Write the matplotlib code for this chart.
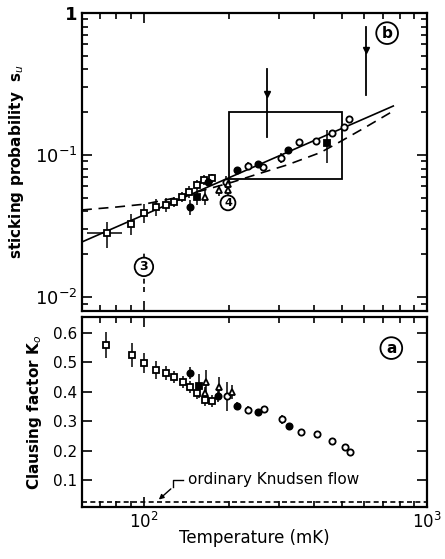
import numpy as np
import matplotlib
matplotlib.use("Agg")
import matplotlib.pyplot as plt
from matplotlib.patches import Rectangle
from matplotlib.ticker import LogLocator, NullFormatter

# ---- (b) sticking probability ----
sq_T = [90, 100, 110, 120, 128, 136, 144, 154, 163, 174]
sq_s = [0.0327, 0.0391, 0.043, 0.0445, 0.0467, 0.0507, 0.055, 0.0615, 0.0667, 0.0689]
sq_err = [0.0055, 0.006, 0.006, 0.005, 0.004, 0.004, 0.005, 0.005, 0.005, 0.005]

big_T, big_s = [74], [0.0282]
big_xerr = [[11], [10]]
big_yerr = [[0.0061], [0.0055]]

oc_T = [195, 233, 263, 305, 353, 405, 461, 509, 530]
oc_s = [0.0646, 0.0837, 0.0823, 0.0953, 0.1236, 0.1256, 0.143, 0.157, 0.179]
oc_err = [0.006, 0.005, 0.0, 0.008, 0.0, 0.0, 0.0, 0.0, 0.01]

fc_T = [145, 168, 213, 253, 323]
fc_s = [0.043, 0.0646, 0.078, 0.0864, 0.108]
fc_err = [0.005, 0.004, 0.0, 0.0, 0.0]

fs_T = [154, 443]
fs_s = [0.0507, 0.1216]
fs_err = [[0.006, 0.034], [0.006, 0.029]]

tr_T = [164, 184, 198, 198]
tr_s = [0.0507, 0.0567, 0.0567, 0.062]
tr_err = [0.006, 0.005, 0.005, 0.004]

# fitted power law (solid) and model curve (dashed)
fit_T = [60.4, 759]
fit_s = [0.0244, 0.221]
model_T = [60.4, 80, 100, 130, 160, 206, 250, 320, 420, 493, 600, 740]
model_s = [0.041, 0.043, 0.045, 0.050, 0.056, 0.0645, 0.073, 0.085, 0.104, 0.124, 0.155, 0.198]

# ---- (a) Clausing factor ----
ksq_T = [73.5, 90.7, 100, 110, 119.6, 127.6, 137, 145.4, 154, 164, 174]
ksq_K = [0.559, 0.525, 0.498, 0.474, 0.464, 0.45, 0.433, 0.416, 0.395, 0.372, 0.368]
ksq_err = [0.045, 0.04, 0.035, 0.03, 0.025, 0.02, 0.02, 0.02, 0.02, 0.02, 0.02]

koc_T = [196, 233, 265, 307, 359, 408, 461, 513, 535]
koc_K = [0.385, 0.338, 0.341, 0.307, 0.263, 0.256, 0.233, 0.212, 0.195]
koc_err = [0.05, 0.015, 0.01, 0.015, 0.0, 0.0, 0.0, 0.0, 0.0]

kfc_T = [145, 182, 213, 253, 325]
kfc_K = [0.464, 0.385, 0.352, 0.332, 0.284]
kfc_err = [0.02, 0.02, 0.015, 0.008, 0.005]

kfs_T = [157]
kfs_K = [0.42]
kfs_err = [0.04]

ktr_T = [164, 166, 184, 204]
ktr_K = [0.395, 0.433, 0.415, 0.40]
ktr_err = [0.02, 0.04, 0.035, 0.025]

knudsen_K = 0.025

fig = plt.figure(figsize=(4.45, 5.59), dpi=100)
ax1 = fig.add_axes([0.184, 0.444, 0.776, 0.533])
ax2 = fig.add_axes([0.184, 0.093, 0.776, 0.34])

ms = 4.5
mew = 1.3
eb = dict(ecolor="black", elinewidth=1.1, capsize=0, ls="none")


def draw(ax, x, y, err, marker, face):
    ax.errorbar(x, y, yerr=err, marker=marker, ms=ms, mfc=face, mec="black",
                mew=mew, **eb, zorder=3)


# upper panel
ax1.plot(fit_T, fit_s, color="black", lw=1.2)
ax1.plot(model_T, model_s, color="black", lw=1.2, ls=(0, (6, 4)))
ax1.errorbar(big_T, big_s, xerr=big_xerr, yerr=big_yerr, marker="s", ms=ms,
             mfc="white", mec="black", mew=mew, **eb, zorder=3)
draw(ax1, sq_T, sq_s, sq_err, "s", "white")
draw(ax1, oc_T, oc_s, oc_err, "o", "white")
draw(ax1, fc_T, fc_s, fc_err, "o", "black")
draw(ax1, fs_T, fs_s, fs_err, "s", "black")
draw(ax1, tr_T, tr_s, tr_err, "^", "white")

ax1.add_patch(Rectangle((200, 0.068), 300, 0.2 - 0.068, fill=False,
                        ec="black", lw=1.3))

# arrows marking characteristic temperatures
for xa, y0, y1, yh in [(272, 0.404, 0.134, 0.27), (608, 0.796, 0.265, 0.55)]:
    ax1.plot([xa, xa], [y0, y1], color="black", lw=1.3)
    ax1.plot([xa], [yh], marker="v", ms=5, color="black")

# point 3 with its dashed bar
e3 = ax1.errorbar([100], [0.0163], yerr=[[0.0055], [0.0048]], ls="none",
                  ecolor="black", elinewidth=1.2, capsize=0)
e3[2][0].set_linestyle((0, (3, 2)))

circ = dict(boxstyle="circle,pad=0.22", fc="white", ec="black", lw=1.3)
ax1.text(100, 0.0163, "3", ha="center", va="center", fontsize=9,
         fontweight="bold", bbox=circ, zorder=4)
ax1.text(198, 0.046, "4", ha="center", va="center", fontsize=8,
         fontweight="bold", bbox=circ, zorder=4)
ax1.text(722, 0.72, "b", ha="center", va="center", fontsize=11,
         fontweight="bold", bbox=circ)

ax1.set_xscale("log")
ax1.set_yscale("log")
ax1.set_xlim(60.4, 1000)
ax1.set_ylim(0.008, 1)
ax1.set_yticks([0.01, 0.1, 1])
ax1.set_yticklabels([r"$10^{-2}$", r"$10^{-1}$", r"$\mathbf{1}$"], fontsize=13)
ax1.set_ylabel(r"sticking probability  s$_u$", fontsize=11,
               fontweight="bold", labelpad=6)
ax1.xaxis.set_major_formatter(NullFormatter())
ax1.xaxis.set_minor_formatter(NullFormatter())

# lower panel
ax2.axhline(knudsen_K, color="black", lw=1.2, ls=(0, (3, 2)))
draw(ax2, ksq_T, ksq_K, ksq_err, "s", "white")
draw(ax2, koc_T, koc_K, koc_err, "o", "white")
draw(ax2, kfc_T, kfc_K, kfc_err, "o", "black")
draw(ax2, kfs_T, kfs_K, kfs_err, "s", "black")
draw(ax2, ktr_T, ktr_K, ktr_err, "^", "white")

ax2.text(143, 0.1, "ordinary Knudsen flow", fontsize=11, va="center",
         ha="left")
ax2.plot([137, 126.6, 126.6], [0.1, 0.1, 0.076], color="black", lw=1.0)
ax2.annotate("", xy=(111, 0.027), xytext=(126.6, 0.076),
             arrowprops=dict(arrowstyle="-|>", color="black", lw=1.0,
                             mutation_scale=7))
ax2.text(747, 0.549, "a", ha="center", va="center", fontsize=11,
         fontweight="bold", bbox=circ)

ax2.set_xscale("log")
ax2.set_xlim(60.4, 1000)
ax2.set_ylim(0.008, 0.655)
ax2.set_yticks([0.1, 0.2, 0.3, 0.4, 0.5, 0.6])
ax2.set_yticklabels(["0.1", "0.2", "0.3", "0.4", "0.5", "0.6"], fontsize=11)
ax2.set_xticks([100, 1000])
ax2.set_xticklabels([r"$10^2$", r"$10^3$"], fontsize=12)
ax2.xaxis.set_minor_formatter(NullFormatter())
ax2.set_xlabel("Temperature (mK)", fontsize=12, labelpad=-2)
ax2.set_ylabel(r"Clausing factor K$_o$", fontsize=11, fontweight="bold",
               labelpad=6)

for ax in (ax1, ax2):
    for sp in ax.spines.values():
        sp.set_linewidth(1.6)
    ax.tick_params(which="both", direction="in", top=True, right=True,
                   width=1.2)
    ax.tick_params(which="major", length=7)
    ax.tick_params(which="minor", length=4)
    ax.xaxis.set_minor_locator(LogLocator(base=10, subs=np.arange(2, 10)))
ax1.yaxis.set_minor_locator(LogLocator(base=10, subs=np.arange(2, 10)))
ax1.yaxis.set_minor_formatter(NullFormatter())

fig.savefig("out.png", dpi=100)
